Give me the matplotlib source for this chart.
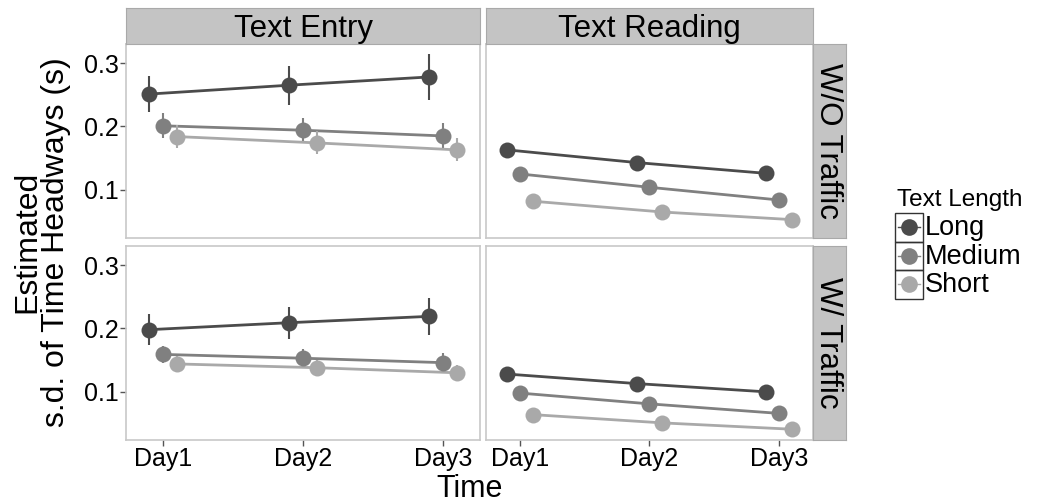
import numpy as np
import matplotlib
matplotlib.use("Agg")
import matplotlib.pyplot as plt
from matplotlib.patches import Rectangle

plt.rcParams['font.family'] = ['Liberation Sans', 'DejaVu Sans']

# data
days = ['Day1', 'Day2', 'Day3']
groups = ['Long', 'Medium', 'Short']
tasks = ['Text Entry', 'Text Reading']
traffic = ['W/O Traffic', 'W/ Traffic']

# estimates, one list per panel and text length (Day1..Day3)
entry_wo_long = [0.251, 0.265, 0.278]
entry_wo_medium = [0.201, 0.194, 0.185]
entry_wo_short = [0.184, 0.174, 0.163]
read_wo_long = [0.163, 0.143, 0.126]
read_wo_medium = [0.125, 0.104, 0.084]
read_wo_short = [0.082, 0.065, 0.053]
entry_w_long = [0.198, 0.209, 0.219]
entry_w_medium = [0.159, 0.153, 0.146]
entry_w_short = [0.144, 0.138, 0.130]
read_w_long = [0.128, 0.113, 0.100]
read_w_medium = [0.098, 0.081, 0.066]
read_w_short = [0.064, 0.051, 0.041]

# half widths of error bars
err_entry_wo_long = [0.029, 0.031, 0.036]
err_entry_wo_medium = [0.020, 0.020, 0.021]
err_entry_wo_short = [0.018, 0.018, 0.018]
err_read_wo_long = [0.011, 0.008, 0.006]
err_read_wo_medium = [0.006, 0.005, 0.004]
err_read_wo_short = [0.004, 0.003, 0.003]
err_entry_w_long = [0.024, 0.025, 0.029]
err_entry_w_medium = [0.014, 0.014, 0.015]
err_entry_w_short = [0.012, 0.012, 0.012]
err_read_w_long = [0.005, 0.004, 0.004]
err_read_w_medium = [0.004, 0.003, 0.003]
err_read_w_short = [0.003, 0.002, 0.002]

est = {
    ('W/O Traffic', 'Text Entry'): [entry_wo_long, entry_wo_medium, entry_wo_short],
    ('W/O Traffic', 'Text Reading'): [read_wo_long, read_wo_medium, read_wo_short],
    ('W/ Traffic', 'Text Entry'): [entry_w_long, entry_w_medium, entry_w_short],
    ('W/ Traffic', 'Text Reading'): [read_w_long, read_w_medium, read_w_short],
}
err = {
    ('W/O Traffic', 'Text Entry'): [err_entry_wo_long, err_entry_wo_medium, err_entry_wo_short],
    ('W/O Traffic', 'Text Reading'): [err_read_wo_long, err_read_wo_medium, err_read_wo_short],
    ('W/ Traffic', 'Text Entry'): [err_entry_w_long, err_entry_w_medium, err_entry_w_short],
    ('W/ Traffic', 'Text Reading'): [err_read_w_long, err_read_w_medium, err_read_w_short],
}

colors = ['#4b4b4b', '#808080', '#a9a9a9']
dodge = [-0.1, 0.0, 0.1]

W, H = 1046, 503
fig = plt.figure(figsize=(W / 100, H / 100), dpi=100)


def box(x0, y0, x1, y1):
    # pixel box (top-left origin) -> figure rect
    return [x0 / W, 1 - y1 / H, (x1 - x0) / W, (y1 - y0) / H]


col_x = [(126, 480), (486, 813)]
row_y = [(44, 238), (246, 440)]
border = '#c8c8c8'
strip_fill = '#c4c4c4'
strip_edge = '#a9a9a9'

x = np.arange(1, 4)
for r, tr in enumerate(traffic):
    for c, task in enumerate(tasks):
        ax = fig.add_axes(box(col_x[c][0], row_y[r][0], col_x[c][1], row_y[r][1]))
        for g in range(3):
            xs = x + dodge[g]
            ys = est[(tr, task)][g]
            es = err[(tr, task)][g]
            ax.plot(xs, ys, color=colors[g], lw=2, zorder=2)
            ax.vlines(xs, np.array(ys) - np.array(es), np.array(ys) + np.array(es),
                      color=colors[g], lw=1.5, zorder=2)
            ax.plot(xs, ys, 'o', color=colors[g], ms=11.5, mec='none', zorder=3)
        ax.set_xlim(0.736, 3.265)
        ax.set_ylim(0.024, 0.330)
        ax.set_yticks([0.1, 0.2, 0.3])
        ax.set_xticks(x)
        for s in ax.spines.values():
            s.set_color(border)
            s.set_linewidth(1.2)
        ax.tick_params(length=4, width=1, color='#555555', labelsize=18, pad=1)
        if c == 0:
            ax.set_yticklabels(['0.1', '0.2', '0.3'])
        else:
            ax.set_yticklabels([])
            ax.tick_params(axis='y', length=0)
        if r == 1:
            ax.set_xticklabels(days)
        else:
            ax.set_xticklabels([])
            ax.tick_params(axis='x', length=0)

        # top strip
        if r == 0:
            sx = fig.add_axes(box(col_x[c][0], 8, col_x[c][1], 44))
            sx.set_facecolor(strip_fill)
            sx.set_xticks([])
            sx.set_yticks([])
            for s in sx.spines.values():
                s.set_color(strip_edge)
            sx.text(0.5, 0.42, task, ha='center', va='center', fontsize=22.5,
                    transform=sx.transAxes)
        # right strip
        if c == 1:
            sy = fig.add_axes(box(813, row_y[r][0], 846, row_y[r][1]))
            sy.set_facecolor(strip_fill)
            sy.set_xticks([])
            sy.set_yticks([])
            for s in sy.spines.values():
                s.set_color(strip_edge)
            sy.text(0.45, 0.5, tr, ha='center', va='center', fontsize=22.5,
                    rotation=-90, transform=sy.transAxes)

# axis titles
fig.text(42 / W, 1 - 242 / H, 'Estimated\ns.d. of Time Headways (s)', rotation=90,
         ha='center', va='center', fontsize=23, linespacing=0.95)
fig.text(470 / W, 1 - 489 / H, 'Time', ha='center', va='center', fontsize=22)

# legend drawn in pixel space, ggplot style keys
lg = fig.add_axes([0, 0, 1, 1])
lg.set_xlim(0, W)
lg.set_ylim(H, 0)
lg.axis('off')
lg.text(897, 200, 'Text Length', ha='left', va='center', fontsize=17.5)
key_x0, key_w, key_y0, key_h = 895, 28, 213, 28.5
for g, name in enumerate(groups):
    y0 = key_y0 + g * key_h
    lg.add_patch(Rectangle((key_x0, y0), key_w, key_h, fill=False,
                           edgecolor='#333333', lw=1))
    cy = y0 + key_h / 2
    lg.plot([key_x0 + 3, key_x0 + key_w - 3], [cy, cy], color=colors[g], lw=1)
    lg.plot([key_x0 + key_w / 2], [cy], 'o', color=colors[g], ms=12, mec='none')
    lg.text(key_x0 + key_w + 2, cy + 1, name, ha='left', va='center', fontsize=19.5)

fig.savefig('out.png', dpi=100)
